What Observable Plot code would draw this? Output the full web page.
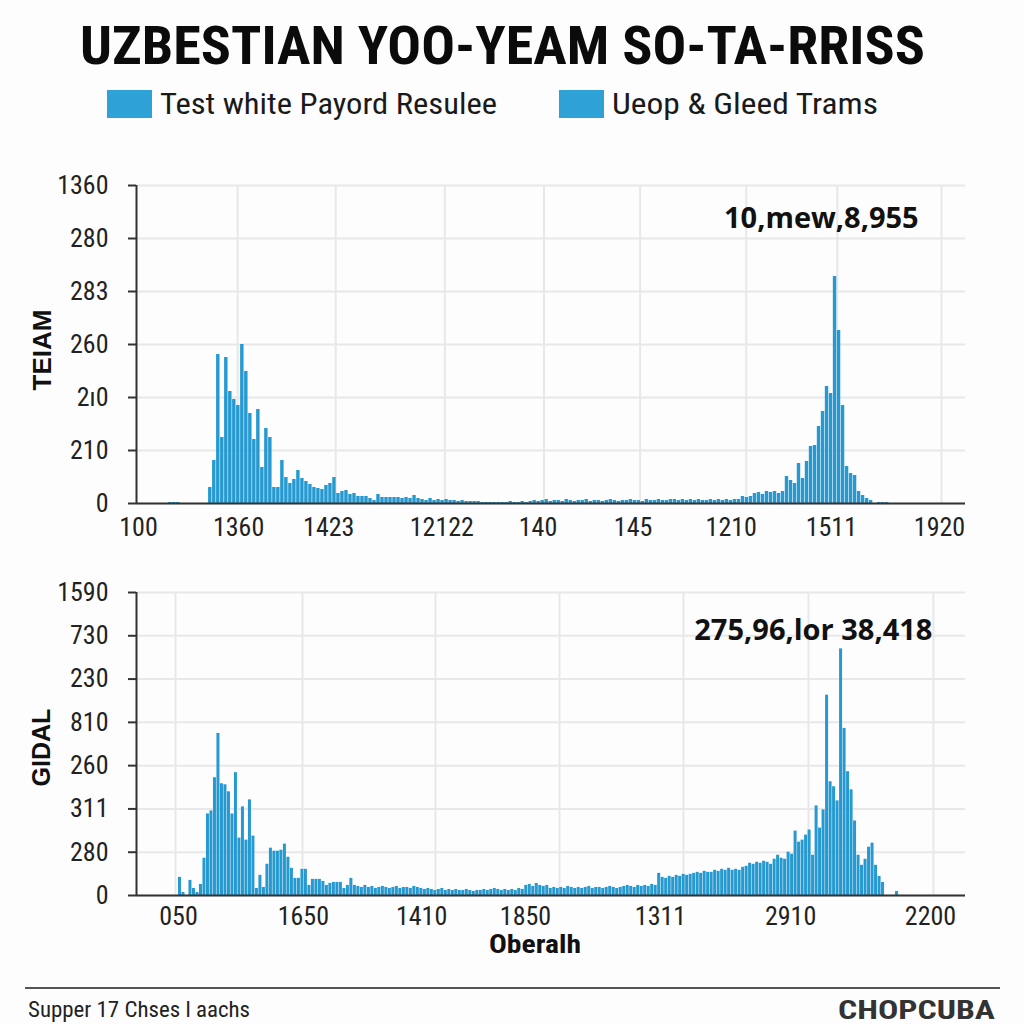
<!DOCTYPE html>
<html>
<head>
<meta charset="utf-8">
<script src="https://cdn.jsdelivr.net/npm/d3@7"></script>
<script src="https://cdn.jsdelivr.net/npm/@observablehq/plot@0.6"></script>
<style>
  html, body { margin: 0; padding: 0; background: #ffffff; }
  #root { position: relative; width: 1024px; height: 1024px; overflow: hidden; background: #fdfdfd; }
  .abs { position: absolute; white-space: nowrap; line-height: 1; }
  #top, #bottom { position: absolute; left: 0; }
</style>
</head>
<body>
<div id="root">
  <div id="top"></div>
  <div id="bottom"></div>
</div>
<script>
// ---------------- DATA ----------------
const titleText = "UZBESTIAN YOO-YEAM SO-TA-RRISS";
const legendLabels = ["Test white Payord Resulee", "Ueop & Gleed Trams"];
const topYTitle = "TEIAM";
const bottomYTitle = "GIDAL";
const bottomXTitle = "Oberalh";
const footerLeft = "Supper 17 Chses l aachs";
const footerRight = "CHOPCUBA";

// top panel: bar heights per bin (207 bins)
const topCounts = [
  0,0,0,0,0,0,0,0, 1,1,1, 0,0,0,0,0,0,0,
  16,43,149,66,146,112,104,98,159,132,90,64,94,36,75,66,16,16,43,26,20,24,33,25,22,19,16,15,14,18,20,26,10,12,13,9,10,7,7,7,5,3,9,6,6,6,6,6,5,6,5,8,5,
  4,3,5,3,4,3,4,3,3,2,3,2,2,2,2,
  1,1,1,1,1,1,1,2,1,1,2,1,2,
  3,2,3,4,2,3,3,2,4,3,2,3,3,4,2,3,3,2,3,4,3,2,3,3,4,3,3,2,4,3,3,4,3,3,4,4,3,4,3,4,3,4,3,3,4,3,4,3,4,3,4,4,
  7,6,7,
  10,11,9,12,11,12,10,12,
  27,23,20,40,25,42,57,58,77,92,117,110,227,173,98,37,30,28,12,8,5,3,0,1,1,1,
  0,0,0,0,0,0,0,0,0,0,0,0,0,0,0,0,0,0,0
];
const topYTicks = [0, 53, 106, 159, 212, 265, 318];
const topYLabels = ["0", "210", "2ı0", "260", "283", "280", "1360"];
const topXTicks = [0.5, 25.5, 48, 76.25, 100.25, 124, 148.5, 173.5, 200.5];
const topXLabels = ["100", "1360", "1423", "12122", "140", "145", "1210", "1511", "1920"];
const topGridX = [25.25, 49.75, 77, 101.75, 125.75, 152.25, 175, 201];
const topNote = [{bin: 171, v: 285, label: "10,mew,8,955"}];

// bottom panel: bar heights per bin (237 bins)
const bottomCounts = [
  0,0,0,0,0,0,0,0,0,0,0,0,
  18,3,0,15,7,3,11,37,81,84,117,161,111,110,103,81,122,57,88,55,95,59,7,20,8,31,47,44,44,45,51,38,27,17,17,26,26,10,16,16,16,14,10,12,13,13,13,7,10,17,
  10,9,8,10,8,9,7,8,9,8,7,8,9,7,8,8,7,9,8,
  7,6,7,6,5,6,7,5,6,5,6,5,5,6,5,4,5,5,6,5,6,7,6,
  5,6,5,6,5,7,6,10,11,9,12,10,9,10,
  7,8,7,8,7,9,8,7,8,7,8,9,7,8,8,7,8,9,8,7,
  8,9,10,9,8,10,9,10,9,11,
  10,22,18,17,19,18,20,19,21,20,21,22,23,22,24,23,23,25,24,26,25,27,25,26,25,28,29,32,31,33,32,34,33,31,36,40,37,36,43,41,64,53,55,60,65,40,89,67,85,199,113,108,94,245,166,123,105,74,40,30,36,48,52,30,19,13,0,0,0,4,
  0,0,0,0,0,0,0,0,0,0,0,0,0,0,0,0,0,0,0
];
const bottomYTicks = [0, 43, 86, 129, 172, 215, 258, 301];
const bottomYLabels = ["0", "280", "311", "260", "810", "230", "730", "1590"];
const bottomXTicks = [12, 47.7, 81.5, 111.2, 149.8, 187, 227];
const bottomXLabels = ["050", "1650", "1410", "1850", "1311", "2910", "2200"];
const bottomGridX = [11.15, 47.46, 85.48, 120.93, 156.38, 192.11, 227.84];
const bottomNote = [{bin: 193.5, v: 263, label: "275,96,lor 38,418"}];

// ---------------- STYLE ----------------
const barColor = "#2599d0";
const gridColor = "#e8e8e8";
const axisColor = "#333333";
const narrow = "'Liberation Sans Narrow', 'Roboto Condensed', 'DejaVu Sans Condensed', 'Liberation Sans', sans-serif";
const boldSans = "'Open Sans', 'Liberation Sans', sans-serif";

function panel({counts, nBins, yMax, yTicks, yLabels, xTicks, xLabels, gridX, note, height, marginTop, marginBottom, insetR, xPad}) {
  const rows = counts.map((v, i) => ({bin: i, v})).filter(d => d.v > 0);
  return Plot.plot({
    width: 1024,
    height,
    marginLeft: 136,
    marginRight: 59,
    marginTop,
    marginBottom,
    x: {domain: [0, nBins]},
    y: {domain: [0, yMax]},
    style: {fontFamily: narrow, fontSize: "26px", color: "#222", background: "transparent", overflow: "visible"},
    marks: [
      Plot.gridX(gridX, {stroke: gridColor, strokeOpacity: 1, strokeWidth: 2}),
      Plot.gridY(yTicks, {stroke: gridColor, strokeOpacity: 1, strokeWidth: 2}),
      Plot.rectY(rows, {x1: "bin", x2: d => d.bin + 1, y: "v", fill: barColor, insetRight: insetR}),
      Plot.ruleY([0], {stroke: axisColor, strokeWidth: 2}),
      Plot.ruleX([0], {stroke: axisColor, strokeWidth: 2}),
      Plot.axisY(yTicks, {tickFormat: d => yLabels[yTicks.indexOf(d)], tickSize: 8, tickPadding: 20, stroke: axisColor, strokeWidth: 2, label: null}),
      Plot.axisX(xTicks, {tickFormat: d => xLabels[xTicks.indexOf(d)], tickSize: 0, tickPadding: xPad, label: null}),
      Plot.text(note, {x: "bin", y: "v", text: "label", fontFamily: boldSans, fontWeight: 700, fontSize: 29, fill: "#111"})
    ]
  });
}

const topChart = panel({
  counts: topCounts, nBins: 207, yMax: 318, yTicks: topYTicks, yLabels: topYLabels,
  xTicks: topXTicks, xLabels: topXLabels, gridX: topGridX, note: topNote,
  height: 388, marginTop: 20, marginBottom: 50, insetR: 0.6, xPad: 14
});
const bottomChart = panel({
  counts: bottomCounts, nBins: 237, yMax: 301, yTicks: bottomYTicks, yLabels: bottomYLabels,
  xTicks: bottomXTicks, xLabels: bottomXLabels, gridX: bottomGridX, note: bottomNote,
  height: 363, marginTop: 20, marginBottom: 40, insetR: 0.5, xPad: 11
});
const topDiv = document.getElementById("top");
topDiv.style.top = "165px";
topDiv.appendChild(topChart);
const botDiv = document.getElementById("bottom");
botDiv.style.top = "572px";
botDiv.appendChild(bottomChart);

// ---------------- OVERLAY TEXT ----------------
const root = document.getElementById("root");
function placeText(txt, o) {
  const el = document.createElement("div");
  el.className = "abs";
  el.textContent = txt;
  el.style.fontFamily = o.font || narrow;
  el.style.fontSize = o.size + "px";
  el.style.fontWeight = o.weight || 400;
  el.style.color = o.color || "#111";
  root.appendChild(el);
  const r = el.getBoundingClientRect();
  const s = o.w ? o.w / r.width : 1;
  const w = r.width * s;
  let left;
  if (o.cx !== undefined) left = o.cx - w / 2;
  else if (o.right !== undefined) left = o.right - w;
  else left = o.left;
  el.style.left = left + "px";
  el.style.top = (o.cy - r.height / 2) + "px";
  el.style.transformOrigin = "0 50%";
  el.style.transform = `scaleX(${s})`;
  if (o.rotate) {
    el.style.left = (o.cx - r.width / 2) + "px";
    el.style.transformOrigin = "50% 50%";
    el.style.transform = "rotate(-90deg)";
  }
  return el;
}
function swatch(left, top) {
  const d = document.createElement("div");
  d.style.position = "absolute";
  d.style.left = left + "px"; d.style.top = top + "px";
  d.style.width = "45px"; d.style.height = "28px";
  d.style.background = "#2ea2d6";
  root.appendChild(d);
}

placeText(titleText, {cx: 502, cy: 46, size: 54, weight: 700, w: 845, color: "#0b0b0b"});
swatch(107, 90);
swatch(559, 90);
placeText(legendLabels[0], {left: 160, cy: 104, size: 30, w: 337, color: "#1a1a1a"});
placeText(legendLabels[1], {left: 612, cy: 104, size: 30, w: 266, color: "#1a1a1a"});
placeText(topYTitle, {cx: 42, cy: 350, size: 26, weight: 700, font: "'Liberation Sans', sans-serif", rotate: true});
placeText(bottomYTitle, {cx: 42, cy: 747, size: 25, weight: 700, font: "'Liberation Sans', sans-serif", rotate: true});
placeText(bottomXTitle, {cx: 535, cy: 944, size: 26, weight: 700, w: 92});
const line = document.createElement("div");
line.style.cssText = "position:absolute;left:25px;top:987px;width:975px;height:2px;background:#555;";
root.appendChild(line);
placeText(footerLeft, {left: 28, cy: 1010, size: 22, w: 222, color: "#222"});
placeText(footerRight, {right: 995, cy: 1010, size: 26, weight: 700, w: 157, color: "#333"});
</script>
</body>
</html>
